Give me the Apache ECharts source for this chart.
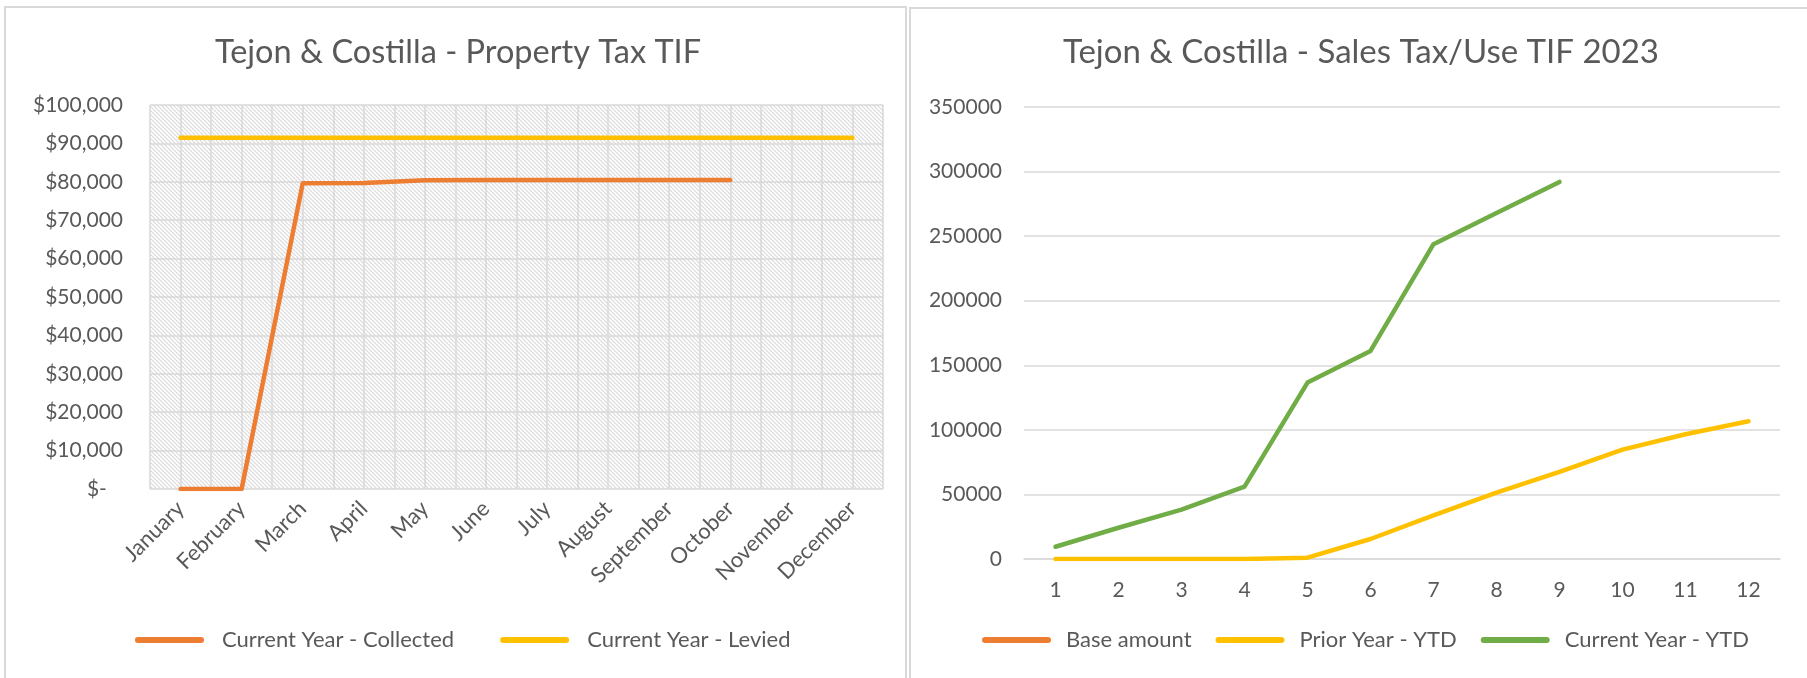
<!DOCTYPE html>
<html>
<head>
<meta charset="utf-8">
<title>Tejon & Costilla TIF</title>
<script src="https://cdn.jsdelivr.net/npm/echarts@6.0.0/dist/echarts.min.js"></script>
<style>
  html, body { margin: 0; padding: 0; background: #fff; overflow: hidden; width: 1807px; height: 678px; }
  .panel { position: absolute; border: 2px solid #d9d9d9; box-sizing: border-box; }
  .chart { position: absolute; top: 0; }
</style>
</head>
<body>
<div class="panel" style="left:4px; top:6px; width:903px; height:720px;"></div>
<div class="panel" style="left:909px; top:7px; width:920px; height:720px;"></div>
<div id="propChart" class="chart" style="left:0; width:916px; height:678px;"></div>
<div id="salesChart" class="chart" style="left:906px; width:910px; height:678px;"></div>

<script>
// property tax chart
const months = ['January', 'February', 'March', 'April', 'May', 'June', 'July',
  'August', 'September', 'October', 'November', 'December'];
const collected = [0, 0, 79600, 79700, 80400, 80500, 80500, 80500, 80500, 80500, null, null];
const levied = [91500, 91500, 91500, 91500, 91500, 91500, 91500, 91500, 91500, 91500, 91500, 91500];

// sales tax chart
const periods = ['1', '2', '3', '4', '5', '6', '7', '8', '9', '10', '11', '12'];
const baseAmount = [null, null, null, null, null, null, null, null, null, null, null, null];
const priorYtd = [0, 0, 0, 0, 1000, 15500, 33800, 51400, 67400, 84700, 96600, 106700];
const currentYtd = [9500, 24200, 38200, 56100, 136600, 161100, 243800, 267900, 292000, null, null, null];

const FONT = 'Lato, "Liberation Sans", sans-serif';
const TEXT = '#595959';
const GRID = '#d9d9d9';
const ORANGE = '#ED7D31';
const YELLOW = '#FFC000';
const GREEN = '#70AD47';
const legendIcon = 'path://M3,0 L66,0 A3,3 0 0 1 66,6 L3,6 A3,3 0 0 1 3,0 Z';

// hatched plot background (light downward diagonal)
function hatch() {
  const c = document.createElement('canvas');
  c.width = 8;
  c.height = 8;
  const ctx = c.getContext('2d');
  ctx.fillStyle = '#ffffff';
  ctx.fillRect(0, 0, 8, 8);
  ctx.strokeStyle = '#dadada';
  ctx.lineWidth = 1.2;
  for (let k = -8; k <= 8; k += 4) {
    ctx.beginPath();
    ctx.moveTo(k, 0);
    ctx.lineTo(k + 8, 8);
    ctx.stroke();
  }
  return c;
}

function lineSeries(name, data, color) {
  return {
    name: name,
    type: 'line',
    data: data,
    symbol: 'none',
    color: color,
    lineStyle: { color: color, width: 4.5, cap: 'round', join: 'round' },
    animation: false
  };
}

const propChart = echarts.init(document.getElementById('propChart'));
propChart.setOption({
  animation: false,
  title: {
    text: 'Tejon & Costilla - Property Tax TIF',
    left: 'center',
    top: 31,
    textStyle: { fontFamily: FONT, fontSize: 32.5, fontWeight: 'normal', color: TEXT }
  },
  grid: {
    left: 150, top: 105, width: 733, height: 384,
    show: true,
    borderWidth: 0,
    backgroundColor: { image: hatch(), repeat: 'repeat' }
  },
  legend: {
    left: 135,
    top: 629,
    padding: 0,
    itemWidth: 69,
    itemHeight: 6,
    itemGap: 46,
    icon: legendIcon,
    textStyle: { fontFamily: FONT, fontSize: 22, color: TEXT, padding: [0, 0, 0, 13] },
    data: ['Current Year - Collected', 'Current Year - Levied']
  },
  xAxis: [{
    type: 'category',
    data: months,
    boundaryGap: true,
    axisLine: { show: false },
    axisTick: { show: false },
    splitLine: { show: false },
    axisLabel: { rotate: 45, margin: 16, fontFamily: FONT, fontSize: 22, color: TEXT, interval: 0 }
  }, {
    // half-category vertical gridlines
    type: 'value',
    min: 0,
    max: 24,
    interval: 1,
    position: 'bottom',
    axisLine: { show: false },
    axisTick: { show: false },
    axisLabel: { show: false },
    splitLine: { show: true, lineStyle: { color: GRID, width: 1.5 } }
  }],
  yAxis: {
    type: 'value',
    min: 0,
    max: 100000,
    interval: 10000,
    axisLine: { show: false },
    axisTick: { show: false },
    splitLine: { lineStyle: { color: GRID, width: 1.5 } },
    axisLabel: {
      margin: 27,
      fontFamily: FONT,
      fontSize: 21,
      color: TEXT,
      formatter: function (v) {
        return v === 0 ? '$-   ' : '$' + v.toLocaleString('en-US');
      }
    }
  },
  series: [
    lineSeries('Current Year - Collected', collected, ORANGE),
    lineSeries('Current Year - Levied', levied, YELLOW)
  ]
});

const salesChart = echarts.init(document.getElementById('salesChart'));
salesChart.setOption({
  animation: false,
  title: {
    text: 'Tejon & Costilla - Sales Tax/Use TIF 2023',
    left: 'center',
    top: 31,
    textStyle: { fontFamily: FONT, fontSize: 33, fontWeight: 'normal', color: TEXT }
  },
  grid: { left: 118, top: 107, width: 756, height: 452 },
  legend: {
    left: 76,
    top: 629,
    padding: 0,
    itemWidth: 69,
    itemHeight: 6,
    itemGap: 24,
    icon: legendIcon,
    textStyle: { fontFamily: FONT, fontSize: 22, color: TEXT, padding: [0, 0, 0, 10] },
    data: ['Base amount', 'Prior Year - YTD', 'Current Year - YTD']
  },
  xAxis: {
    type: 'category',
    data: periods,
    boundaryGap: true,
    axisLine: { lineStyle: { color: GRID, width: 1.5 } },
    axisTick: { show: false },
    axisLabel: { margin: 21, fontFamily: FONT, fontSize: 21, color: TEXT }
  },
  yAxis: {
    type: 'value',
    min: 0,
    max: 350000,
    interval: 50000,
    axisLine: { show: false },
    axisTick: { show: false },
    splitLine: { lineStyle: { color: GRID, width: 1.5 } },
    axisLabel: {
      margin: 22,
      fontFamily: FONT,
      fontSize: 21,
      color: TEXT,
      formatter: function (v) { return String(v); }
    }
  },
  series: [
    lineSeries('Base amount', baseAmount, ORANGE),
    lineSeries('Prior Year - YTD', priorYtd, YELLOW),
    lineSeries('Current Year - YTD', currentYtd, GREEN)
  ]
});
</script>
</body>
</html>
